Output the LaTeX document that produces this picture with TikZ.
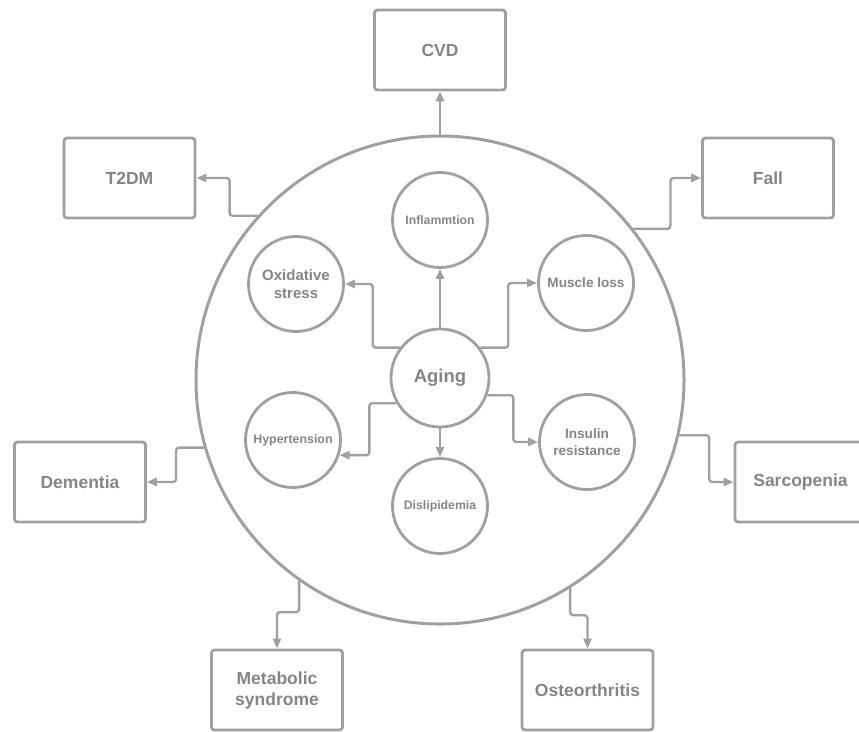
\documentclass[tikz,border=0pt]{standalone}
\usepackage{fontspec}
\setmainfont{Liberation Sans}
\usetikzlibrary{arrows.meta}
\definecolor{linecol}{HTML}{A0A0A0}
\definecolor{txtcol}{HTML}{858585}
\begin{document}
\begin{tikzpicture}[x=1pt,y=-1pt,
  every node/.style={text=txtcol,font=\bfseries,align=center},
  bigc/.style={circle,draw=linecol,line width=3pt,minimum size=488pt,inner sep=0pt},
  smallc/.style={circle,draw=linecol,line width=2.8pt,minimum size=95pt,inner sep=0pt},
  agingc/.style={circle,draw=linecol,line width=2.8pt,minimum size=98pt,inner sep=0pt,font=\bfseries\fontsize{18.5}{22}\selectfont},
  outbox/.style={rectangle,draw=linecol,line width=2.8pt,rounded corners=3pt,minimum width=131pt,minimum height=80pt,inner sep=0pt,font=\bfseries\fontsize{17.5}{21}\selectfont},
  arr/.style={draw=linecol,line width=2.4pt,rounded corners=3pt,-{Triangle[length=10pt,width=8pt]}}
]
\useasboundingbox (0,0) rectangle (859,731);
\clip (0,0) rectangle (859,731);
% big circle
\node[bigc] (big) at (440,380) {};
% inner circles
\node[agingc] (aging) at (440,378) {Aging};
\node[smallc,font=\bfseries\fontsize{12.2}{15}\selectfont] (infl) at (440,220) {Inflammtion};
\node[smallc,font=\bfseries\fontsize{15}{18}\selectfont] (oxi) at (296,284) {Oxidative\\stress};
\node[smallc,font=\bfseries\fontsize{13.6}{16}\selectfont] (mus) at (586,283) {Muscle loss};
\node[smallc,font=\bfseries\fontsize{12.4}{15}\selectfont] (hyp) at (293,440) {Hypertension};
\node[smallc,font=\bfseries\fontsize{13.6}{16.5}\selectfont] (ins) at (587,442) {Insulin\\resistance};
\node[smallc,font=\bfseries\fontsize{12.3}{15}\selectfont] (dis) at (440,506) {Dislipidemia};
% outer boxes
\node[outbox] (cvd) at (440,50) {CVD};
\node[outbox] (t2dm) at (129.5,178) {T2DM};
\node[outbox] (fall) at (768,178) {Fall};
\node[outbox] (dem) at (80,482) {Dementia};
\node[outbox] (sar) at (800.5,482) {Sarcopenia};
\node[outbox] (met) at (277,690) {Metabolic\\syndrome};
\node[outbox] (ost) at (587.5,690) {Osteorthritis};
% inner connectors
\draw[arr] (aging) -- (infl);
\draw[arr] (aging) -- (dis);
\draw[arr] (aging.143) -- ++(-27,0) |- (oxi);
\draw[arr] (aging.37) -- ++(28,0) |- (mus);
\draw[arr] (aging.210) -- ++(-27,0) |- (hyp.-18);
\draw[arr] (aging.-20) -- ++(26,0) |- (ins);
% outer connectors
\draw[arr] (big) -- (cvd);
\draw[arr] (big.138) -- ++(-28,0) |- (t2dm);
\draw[arr] (big.38) -- ++(37,0) |- (fall);
\draw[arr] (big.196.4) -- ++(-28,0) |- (dem);
\draw[arr] (big.-13.5) -- ++(30,0) |- (sar);
\draw[arr] (big.-125.3) -- ++(0,31) -| (met);
\draw[arr] (big.-58.3) -- ++(0,27) -| (ost);
\end{tikzpicture}
\end{document}
